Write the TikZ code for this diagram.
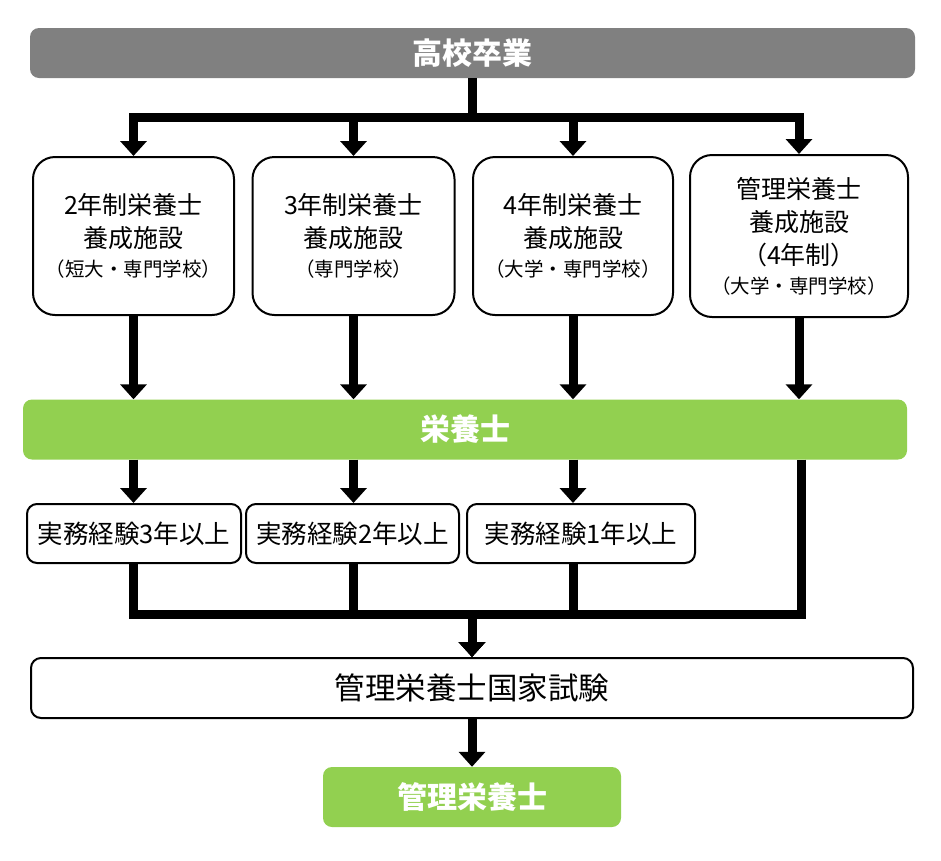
\documentclass[tikz,border=0pt]{standalone}
\usepackage{fontspec}
\setmainfont{Noto Sans CJK JP}
\usetikzlibrary{arrows.meta}
\definecolor{barGray}{RGB}{128,128,128}
\definecolor{leaf}{RGB}{146,208,80}
\newcommand{\smalltxt}{\fontsize{19.5}{30}\selectfont}
\begin{document}
\begin{tikzpicture}[x=1pt,y=-1pt,
  arr/.style={line width=9pt, line join=miter, -{Triangle[width=26pt,length=15pt]}},
  heading/.style={rectangle, rounded corners=9pt, inner sep=0pt, text=white,
    font=\bfseries\fontsize{30}{36}\selectfont},
  graybar/.style={heading, fill=barGray},
  greenbar/.style={heading, fill=leaf},
  school/.style={draw, line width=2pt, rounded corners=22pt, fill=white, align=center,
    inner sep=0pt, font=\fontsize{25}{33}\selectfont},
  exp/.style={draw, line width=2pt, rounded corners=10pt, fill=white, inner sep=0pt,
    minimum height=59pt, font=\fontsize{25.5}{30}\selectfont},
]
\useasboundingbox (0,0) rectangle (941,860);

\node[graybar, minimum width=885pt, minimum height=50pt] (top) at (472.5,53) {高校卒業};

\node[school, minimum width=201pt, minimum height=158pt] (b1) at (133.5,236)
  {2年制栄養士\\養成施設\\[-4pt]{\smalltxt （短大・専門学校）}};
\node[school, minimum width=202pt, minimum height=158pt] (b2) at (353.5,236)
  {3年制栄養士\\養成施設\\[-4pt]{\smalltxt （専門学校）}};
\node[school, minimum width=200pt, minimum height=158pt] (b3) at (573,236)
  {4年制栄養士\\養成施設\\[-4pt]{\smalltxt （大学・専門学校）}};
\node[school, minimum width=218pt, minimum height=162pt] (b4) at (799,236)
  {管理栄養士\\養成施設\\（4年制）\\[-4pt]{\smalltxt （大学・専門学校）}};

\node[greenbar, minimum width=884pt, minimum height=60pt] (eiyo) at (465,429.5) {栄養士};

\node[exp, minimum width=214pt] (e1) at (134,533.5) {実務経験3年以上};
\node[exp, minimum width=213pt] (e2) at (352.5,533.5) {実務経験2年以上};
\node[exp, minimum width=228pt] (e3) at (581,533.5) {実務経験1年以上};

\node[draw, line width=2pt, rounded corners=10pt, fill=white, inner sep=0pt,
  minimum width=882pt, minimum height=60pt, font=\fontsize{30.5}{36}\selectfont]
  (exam) at (472,688) {管理栄養士国家試験};

\node[greenbar, minimum width=298pt, minimum height=60pt] (final) at (472,797) {管理栄養士};

\coordinate (hb1) at (0,117);
\coordinate (hb2) at (0,614);

% top distribution
\foreach \b in {b1,b2,b3,b4}
  \draw[arr] (top.south) -- (top.south |- hb1) -| (\b.north);

% schools to eiyoshi
\foreach \b in {b1,b2,b3,b4}
  \draw[arr] (\b.south) -- (\b.south |- eiyo.north);

% eiyoshi to experience
\draw[arr] (b1.south |- eiyo.south) -- (b1.south |- e1.north);
\draw[arr] (b2.south |- eiyo.south) -- (b2.south |- e2.north);
\draw[arr] (b3.south |- eiyo.south) -- (b3.south |- e3.north);

% experience to exam
\draw[arr] (b1.south |- e1.south) -- (b1.south |- hb2) -| (exam.north);
\draw[arr] (b2.south |- e2.south) -- (b2.south |- hb2) -| (exam.north);
\draw[arr] (b3.south |- e3.south) -- (b3.south |- hb2) -| (exam.north);
\draw[arr] ([xshift=2pt]b4.south |- eiyo.south) -- ([xshift=2pt]b4.south |- hb2) -| (exam.north);

% exam to final
\draw[arr] (exam.south) -- (final.north);
\end{tikzpicture}
\end{document}
